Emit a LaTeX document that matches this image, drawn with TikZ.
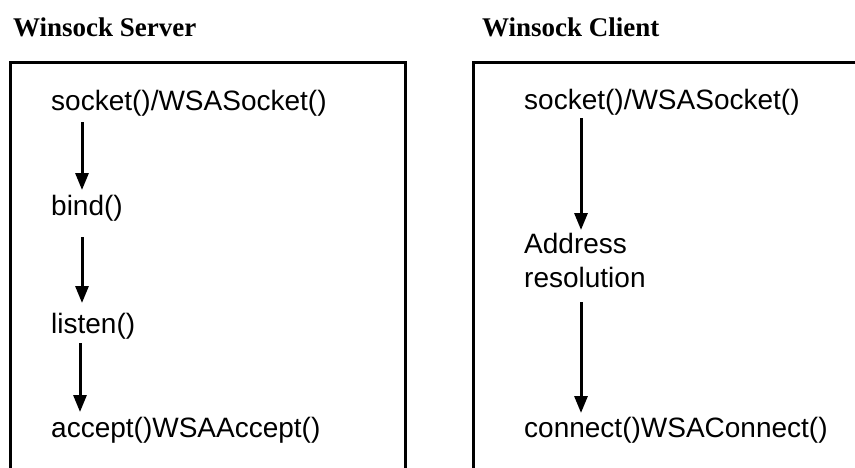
\documentclass[tikz,border=0pt]{standalone}
\usepackage{fontspec}
\setmainfont{Liberation Sans}
\newfontfamily\titlefont{Liberation Serif}
\usetikzlibrary{arrows.meta}
\tikzset{
  panel/.style={line width=3pt},
  heading/.style={anchor=base west, inner sep=0pt, font=\titlefont\bfseries\fontsize{27}{30}\selectfont},
  call/.style={anchor=base west, inner sep=0pt, align=left, font=\fontsize{28}{34}\selectfont},
  flow/.style={line width=3pt, -{Triangle[width=13pt,length=17pt]}}
}
\begin{document}
\begin{tikzpicture}[x=1pt,y=-1pt]
  \useasboundingbox (0,0) rectangle (855,467);

  % titles
  \node[heading] (srvtitle) at (13,36) {Winsock Server};
  \node[heading] (clititle) at (482,36) {Winsock Client};

  % panels, open at the bottom
  \draw[panel] (10,470) -- (10,62) -- (405,62) -- (405,470);
  \draw[panel] (473,470) -- (473,62) -- (860,62);

  % server sequence
  \node[call] (ssock)   at (51,110) {socket()/WSASocket()};
  \node[call] (sbind)   at (51,215) {bind()};
  \node[call] (slisten) at (51,333) {listen()};
  \node[call] (saccept) at (51,437) {accept()WSAAccept()};

  \draw[flow] ([xshift=31pt,yshift=-12pt]ssock.base west) -- ([xshift=31pt,yshift=25pt]sbind.base west);
  \draw[flow] ([xshift=31pt,yshift=-22pt]sbind.base west) -- ([xshift=31pt,yshift=30pt]slisten.base west);
  \draw[flow] ([xshift=29pt,yshift=-10pt]slisten.base west) -- ([xshift=29pt,yshift=25pt]saccept.base west);

  % client sequence (the base of a two-line node is its last line)
  \node[call] (csock)    at (524,109) {socket()/WSASocket()};
  \node[call] (cresolve) at (524,287) {Address\\resolution};
  \node[call] (cconnect) at (524,437) {connect()WSAConnect()};

  \draw[flow] ([xshift=57pt,yshift=-9pt]csock.base west) -- ([xshift=57pt,yshift=57pt]cresolve.base west);
  \draw[flow] ([xshift=57pt,yshift=-15pt]cresolve.base west) -- ([xshift=57pt,yshift=24pt]cconnect.base west);
\end{tikzpicture}
\end{document}
